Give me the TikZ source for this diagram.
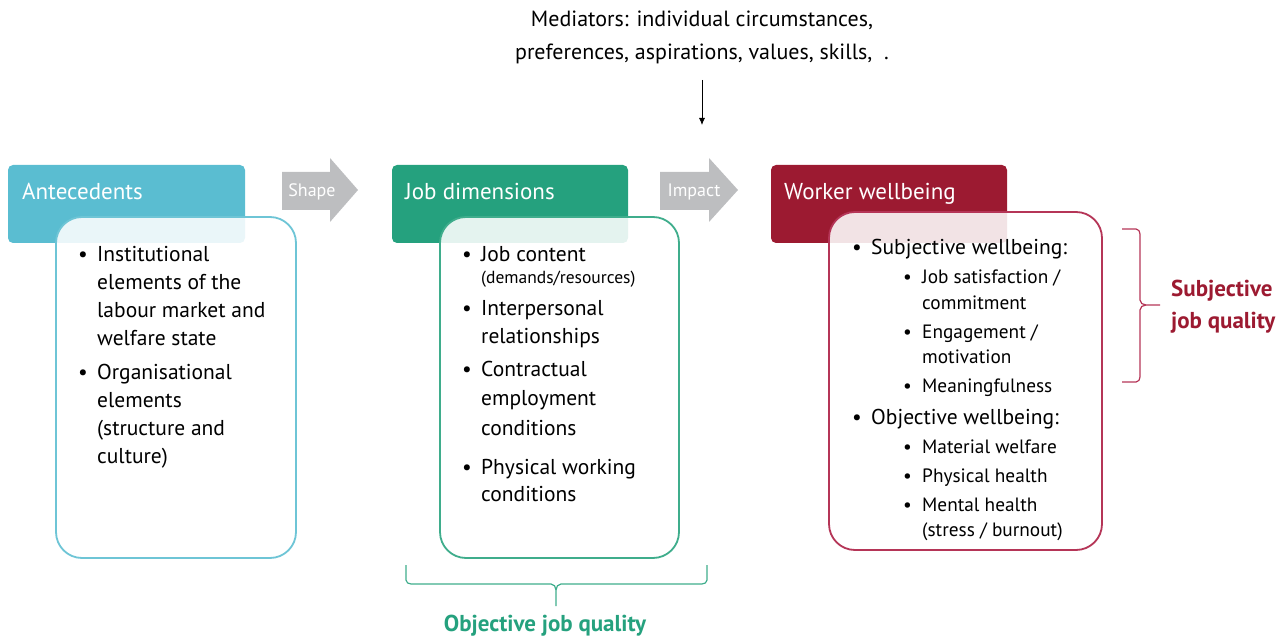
\documentclass[tikz,border=0pt]{standalone}
\usepackage{fontspec}
\setmainfont{PT Sans}
\usetikzlibrary{arrows.meta}
\definecolor{cteal}{HTML}{5ABDD1}
\definecolor{ctealb}{HTML}{6EC5D6}
\definecolor{cgreen}{HTML}{25A17E}
\definecolor{cgreenb}{HTML}{3FAD8C}
\definecolor{cred}{HTML}{9C1A31}
\definecolor{credb}{HTML}{B53557}
\definecolor{cgray}{HTML}{BDBEC0}
\newcommand\fbig{\fontsize{21.5}{28}\selectfont}
\newcommand\fsub{\fontsize{19.3}{25}\selectfont}
\newcommand\fsmall{\fontsize{17.5}{18}\selectfont}
\newcommand\mlines[1]{\begin{tabular}[t]{@{}l@{}}#1\end{tabular}}
\begin{document}
\begin{tikzpicture}[x=1pt,y=-1pt,
  header/.style={rounded corners=5pt, fill=#1, draw=none},
  content/.style={rounded corners=26pt, fill=white, fill opacity=0.88, draw=#1, line width=1.8pt, draw opacity=1},
  htext/.style={anchor=base west, inner sep=0pt, text=white, font=\fontsize{23}{26}\selectfont},
  btext/.style={anchor=base west, inner sep=0pt, font=\fbig},
  stext/.style={anchor=base west, inner sep=0pt, font=\fsub},
  bdot/.style={anchor=base west, inner sep=0pt, font=\fbig},
  bigarrow/.style={fill=cgray, draw=none},
  arrlabel/.style={inner sep=0pt, text=white, font=\fontsize{18}{20}\selectfont},
]
\useasboundingbox (0,0) rectangle (1285,636);
% --- Antecedents
\path[header=cteal] (8,165) rectangle (245,243);
\node[htext] (h1) at (22,200) {Antecedents};
\path[content=ctealb] (56,217) rectangle (296,558);
\node[bdot] (b11) at (78,262) {•};
\node[btext] (t11) at (97,262) {\mlines{Institutional\\elements of the\\labour market and\\welfare state}};
\node[bdot] (b12) at (78,379) {•};
\node[btext] (t12) at (97,379) {\mlines{Organisational\\elements\\(structure and\\culture)}};
% --- Shape arrow
\path[bigarrow] (282,172) -- (330,172) -- (330,158) -- (358,190) -- (330,222) -- (330,210) -- (282,210) -- cycle;
\node[arrlabel] (l1) at (312,192) {Shape};
% --- Job dimensions
\path[header=cgreen] (392,165) rectangle (628,243);
\node[htext] (h2) at (405,200) {Job dimensions};
\path[content=cgreenb] (440,217) rectangle (679,558);
\node[bdot] (b21) at (462,262) {•};
\node[btext] (t21) at (481,262) {Job content};
\node[anchor=base west, inner sep=0pt, font=\fsmall] (t21b) at (481,284) {(demands/resources)};
\node[bdot] (b22) at (462,316) {•};
\node[btext] (t22) at (481,316) {\mlines{Interpersonal\\relationships}};
\node[bdot] (b23) at (462,376) {•};
\node[btext, font=\fontsize{21.5}{29.5}\selectfont] (t23) at (481,376) {\mlines{Contractual\\employment\\conditions}};
\node[bdot] (b24) at (462,474) {•};
\node[btext, font=\fontsize{21.5}{27}\selectfont] (t24) at (481,474) {\mlines{Physical working\\conditions}};
% --- Impact arrow
\path[bigarrow] (660,172) -- (709,172) -- (709,158) -- (738,190) -- (709,222) -- (709,210) -- (660,210) -- cycle;
\node[arrlabel] (l2) at (694,192) {Impact};
% --- Worker wellbeing
\path[header=cred] (771,165) rectangle (1007,243);
\node[htext] (h3) at (784,200) {Worker wellbeing};
\path[content=credb] (829,212) rectangle (1102,550);
\node[bdot] (b31) at (852,255) {•};
\node[btext] (t31) at (871,255) {Subjective wellbeing:};
\node[stext] (b311) at (903,284) {•};
\node[stext] (t311) at (922,284) {\mlines{Job satisfaction /\\commitment}};
\node[stext] (b312) at (903,338) {•};
\node[stext] (t312) at (922,338) {\mlines{Engagement /\\motivation}};
\node[stext] (b313) at (903,392) {•};
\node[stext] (t313) at (922,392) {Meaningfulness};
\node[bdot] (b32) at (852,424) {•};
\node[btext] (t32) at (871,424) {Objective wellbeing:};
\node[stext] (b321) at (903,453) {•};
\node[stext] (t321) at (922,453) {Material welfare};
\node[stext] (b322) at (903,482) {•};
\node[stext] (t322) at (922,482) {Physical health};
\node[stext] (b323) at (903,511) {•};
\node[stext] (t323) at (922,511) {\mlines{Mental health\\(stress / burnout)}};
% --- Mediators
\node[align=center, inner sep=0pt, font=\fontsize{22}{33}\selectfont] (med) at (702,37) {Mediators: individual circumstances,\\preferences, aspirations, values, skills,\ \ .};
\coordinate (m1) at (702,80);
\coordinate (m2) at (702,125);
\draw[line width=0.8pt, -{Latex[length=7pt,width=6pt]}] (m1) -- (m2);
% --- Right brace
\coordinate (rb1) at (1122,229);
\coordinate (rb2) at (1122,382);
\coordinate (rbt) at (1160,305);
\draw[credb, line width=1.2pt] (rb1) -- (1136,229) to[out=0,in=90] (1140,234) -- (1140,300) to[out=270,in=180] (1146,305) -- (rbt);
\draw[credb, line width=1.2pt] (rb2) -- (1136,382) to[out=0,in=270] (1140,377) -- (1140,310) to[out=90,in=180] (1146,305);
\node[anchor=west, align=left, inner sep=0pt, text=cred, font=\bfseries\fontsize{23}{32}\selectfont] (sjq) at (1171,307) {Subjective\\job quality};
% --- Bottom brace
\coordinate (lb1) at (406,565);
\coordinate (lb2) at (707,565);
\coordinate (lbt) at (556,606);
\draw[cgreenb, line width=1.2pt] (lb1) -- (406,580) to[out=270,in=180] (411,584) -- (551,584) to[out=0,in=90] (556,590) -- (lbt);
\draw[cgreenb, line width=1.2pt] (lb2) -- (707,580) to[out=270,in=0] (702,584) -- (561,584) to[out=180,in=90] (556,590);
\node[anchor=base, inner sep=0pt, text=cgreen, font=\bfseries\fontsize{23}{24}\selectfont] (ojq) at (545,631) {Objective job quality};
\end{tikzpicture}
\end{document}
